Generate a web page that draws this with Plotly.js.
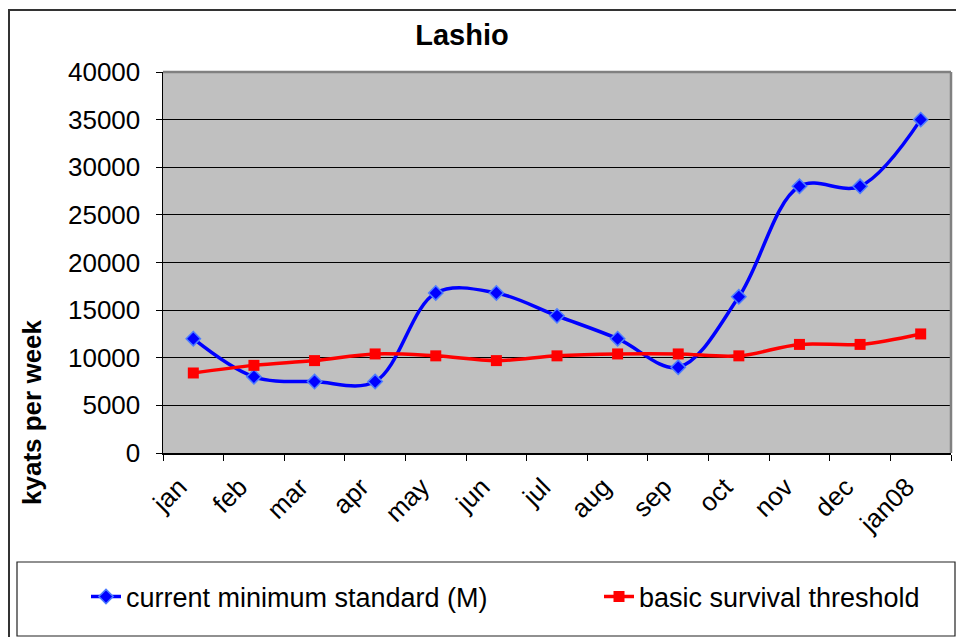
<!DOCTYPE html>
<html>
<head>
<meta charset="utf-8">
<script src="https://cdn.plot.ly/plotly-3.0.1.min.js"></script>
<style>html,body{margin:0;padding:0;background:#fff;}#chart{width:956px;height:637px;}</style>
</head>
<body>
<div id="chart"></div>
<script>
const months = ["jan","feb","mar","apr","may","jun","jul","aug","sep","oct","nov","dec","jan08"];
const currentMinimum = [12000, 8000, 7500, 7500, 16800, 16800, 14400, 12000, 9000, 16400, 28000, 28000, 35000];
const survivalThreshold = [8400, 9200, 9700, 10400, 10200, 9700, 10200, 10400, 10400, 10200, 11400, 11400, 12500];
const yTicks = [0, 5000, 10000, 15000, 20000, 25000, 30000, 35000, 40000];

const FONT = "Liberation Sans, Arial, sans-serif";
const L = 163, R = 951, T = 72, B = 453, W = 956, H = 637;
const pw = R - L, ph = B - T;
const px = v => (v - L) / pw;
const py = v => (B - v) / ph;

const traces = [
  {
    x: months, y: currentMinimum, type: "scatter", mode: "lines+markers",
    name: "current minimum standard (M)", legendwidth: 468,
    line: {color: "#0000ff", width: 3.5, shape: "spline", smoothing: 1},
    marker: {symbol: "diamond", size: 11, color: "#0000ff", line: {color: "#4d7dff", width: 1.5}}
  },
  {
    x: months, y: survivalThreshold, type: "scatter", mode: "lines+markers",
    name: "basic survival threshold",
    line: {color: "#ff0000", width: 3.5, shape: "spline", smoothing: 1},
    marker: {symbol: "square", size: 11, color: "#ff0000"}
  }
];

const layout = {
  width: W, height: H,
  margin: {l: L, r: W - R, t: T, b: H - B, pad: 0},
  paper_bgcolor: "#ffffff",
  plot_bgcolor: "#c0c0c0",
  font: {family: FONT, size: 26, color: "#000"},
  title: {text: "<b>Lashio</b>", font: {family: FONT, size: 29, color: "#000"},
          x: 462 / W, xref: "container", xanchor: "center", y: 1 - 35 / H, yref: "container", yanchor: "middle"},
  xaxis: {
    type: "category", tickangle: -45, ticks: "outside", ticklen: 6, tickcolor: "#000",
    tickson: "boundaries", showgrid: false, showline: true, linecolor: "#000", linewidth: 1.5,
    tickfont: {family: FONT, size: 26}, ticklabelstandoff: 7, ticklabelshift: -14,
    range: [-0.5, 12.5], fixedrange: true
  },
  yaxis: {
    range: [0, 40000], tickvals: yTicks, ticktext: yTicks.map(String),
    ticks: "outside", ticklen: 6, tickcolor: "#000",
    showgrid: true, gridcolor: "#000", gridwidth: 1,
    showline: true, linecolor: "#000", linewidth: 1.5, zeroline: false,
    tickfont: {family: FONT, size: 26}, ticklabelstandoff: 10, fixedrange: true
  },
  showlegend: true,
  legend: {
    orientation: "h", x: px(86), xanchor: "left", y: py(597), yanchor: "middle",
    font: {family: FONT, size: 27}, bgcolor: "rgba(0,0,0,0)", borderwidth: 0,
    itemwidth: 30
  },
  annotations: [
    {text: "<b>kyats per week</b>", xref: "paper", yref: "paper", x: px(32), y: py(412),
     xanchor: "center", yanchor: "middle", textangle: -90, showarrow: false,
     font: {family: FONT, size: 26, color: "#000"}}
  ],
  shapes: [
    {type: "line", xref: "paper", yref: "paper", x0: px(R), x1: px(R), y0: 0, y1: 1, line: {color: "#808080", width: 2.5}},
    {type: "line", xref: "paper", yref: "paper", x0: 0, x1: px(R), y0: 1, y1: 1, line: {color: "#808080", width: 2.5}},
    {type: "rect", xref: "paper", yref: "paper", x0: px(9), x1: px(970), y0: py(650), y1: py(10), line: {color: "#333333", width: 2}},
    {type: "rect", xref: "paper", yref: "paper", x0: px(17), x1: px(955), y0: py(636), y1: py(562), line: {color: "#222222", width: 1.2}}
  ]
};

Plotly.newPlot("chart", traces, layout, {displayModeBar: false, staticPlot: true});
</script>
</body>
</html>
